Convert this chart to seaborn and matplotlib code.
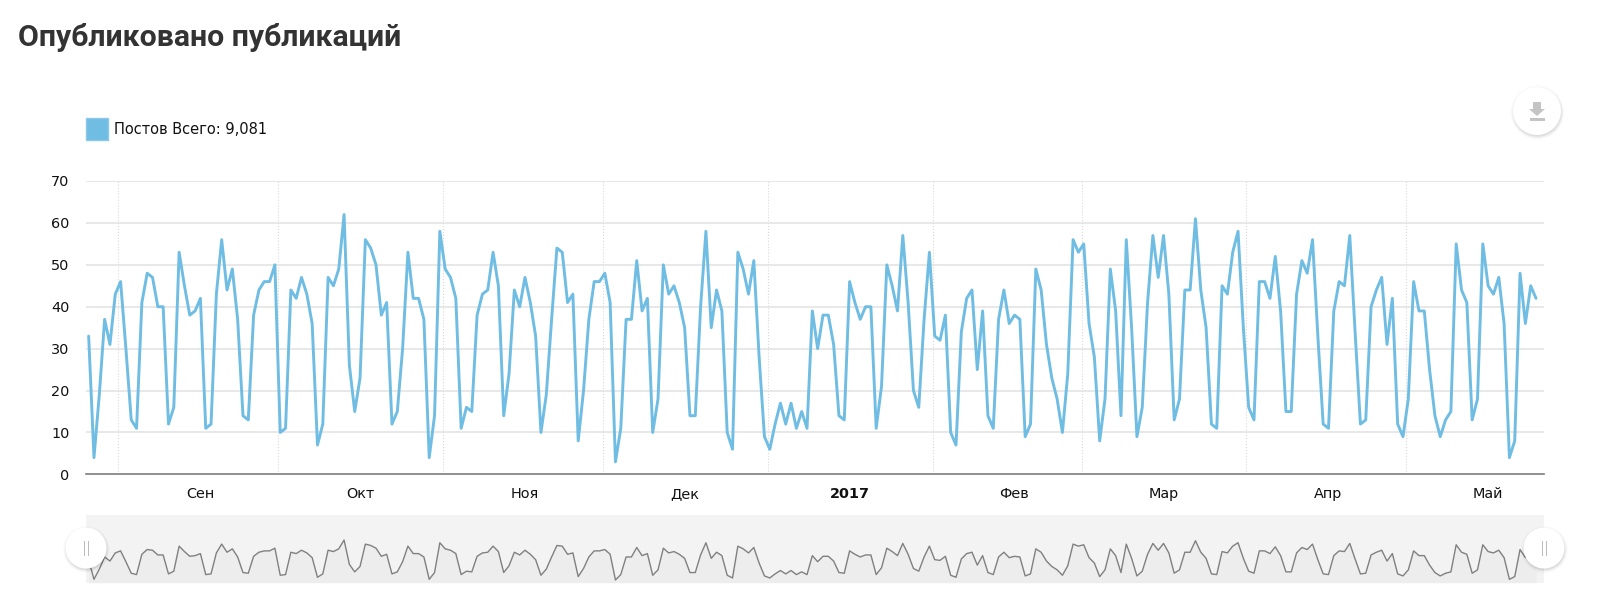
import pandas as pd
import matplotlib
matplotlib.use("Agg")
import matplotlib.pyplot as plt
from matplotlib.patches import Circle, Rectangle, Polygon
import seaborn as sns

# posts per day
posts_part1 = [33, 4, 19, 37, 31, 43, 46, 30, 13, 11, 41, 48, 47, 40, 40, 12, 16, 53, 45, 38,
               39, 42, 11, 12, 43, 56, 44, 49, 37, 14, 13, 38, 44, 46, 46, 50, 10, 11, 44, 42,
               47, 43, 36, 7, 12, 47, 45, 49, 62, 26, 15, 23, 56, 54, 50, 38, 41, 12, 15, 30,
               53, 42, 42, 37, 4, 14, 58, 49, 47, 42, 11, 16, 15, 38, 43, 44, 53, 45, 14, 24,
               44, 40, 47, 41, 33, 10]
posts_part2 = [19, 37, 54, 53, 41, 43, 8, 20, 37, 46, 46, 48, 41, 3, 11, 37, 37, 51, 39, 42,
               10, 18, 50, 43, 45, 41, 35, 14, 14, 40, 58, 35, 44, 39, 10, 6, 53, 49, 43, 51,
               28, 9, 6, 12, 17, 12, 17, 11, 15, 11, 39, 30, 38, 38, 31, 14, 13, 46, 41, 37,
               40, 40, 11, 21, 50, 45, 39, 57, 41, 20, 16, 37, 53, 33, 32, 38, 10, 7, 34, 42,
               44, 25, 39, 14, 11, 37, 44, 36, 38, 37, 9, 12, 49, 44, 31, 23, 18, 10]
posts_part3 = [24, 56, 53, 55, 36, 28, 8, 18, 49, 39, 14, 56, 35, 9, 16, 41, 57, 47, 57, 43,
               13, 18, 44, 44, 61, 44, 35, 12, 11, 45, 43, 53, 58, 35, 16, 13, 46, 46, 42, 52,
               39, 15, 15, 43, 51, 48, 56, 33, 12, 11, 39, 46, 45, 57, 34, 12, 13, 40, 44, 47,
               31, 42, 12, 9, 18, 46, 39, 39, 25, 14, 9, 13, 15, 55, 44, 41, 13, 18, 55, 45,
               43, 47, 36, 4, 8, 48, 36, 45, 42]

month_starts = ["2016-09-01", "2016-10-01", "2016-11-01", "2016-12-01", "2017-01-01",
                "2017-02-01", "2017-03-01", "2017-04-01", "2017-05-01"]
month_labels = ["Сен", "Окт", "Ноя", "Дек", "2017", "Фев", "Мар", "Апр", "Май"]
y_ticks = [0, 10, 20, 30, 40, 50, 60, 70]

title = "Опубликовано публикаций"
legend_label = "Постов Всего: 9,081"

W, H = 1600, 607
LINE = "#70bde3"

posts = posts_part1 + posts_part2 + posts_part3
df = pd.DataFrame({
    "date": pd.date_range("2016-08-26 10:00", periods=len(posts), freq="D"),
    "posts": posts,
})
month_dates = pd.to_datetime(month_starts)
label_dates = month_dates + pd.Timedelta(days=15.4)
x_range = (pd.Timestamp("2016-08-25 22:00"), pd.Timestamp("2017-05-26 22:00"))

sns.set_style("white")
plt.rcParams["font.family"] = ["DejaVu Sans"]

fig = plt.figure(figsize=(W / 100, H / 100), dpi=100, facecolor="white")


def px_axes(x0, y0, x1, y1):
    return fig.add_axes([x0 / W, 1 - y1 / H, (x1 - x0) / W, (y1 - y0) / H])


# main chart
ax = px_axes(86, 181, 1544, 474.4)
sns.lineplot(data=df, x="date", y="posts", color=LINE, linewidth=2.1, ax=ax, zorder=3)
ax.set_xlim(*x_range)
ax.set_ylim(0, 70)
ax.set_xlabel("")
ax.set_ylabel("")
ax.set_yticks(y_ticks)
ax.set_xticks(month_dates)
ax.set_xticklabels([])
ax.set_xticks(label_dates, minor=True)
ax.set_xticklabels(month_labels, minor=True, va="baseline")
ax.tick_params(axis="y", length=0, pad=12, labelsize=10.4, labelcolor="#111111")
ax.tick_params(axis="x", which="major", length=6, width=1, color="#999999")
ax.tick_params(axis="x", which="minor", length=0, pad=17, labelsize=10.4, labelcolor="#111111")
ax.grid(axis="y", color="#e4e4e4", linewidth=1.2, zorder=1)
ax.grid(axis="x", which="major", color="#d8d8d8", linewidth=0.8, linestyle=":", zorder=1)
ax.set_axisbelow(True)
for side in ["top", "left", "right"]:
    ax.spines[side].set_visible(False)
ax.spines["bottom"].set_color("#7f7f7f")
ax.spines["bottom"].set_linewidth(1.2)
for lab in ax.get_xticklabels(minor=True):
    if lab.get_text() == "2017":
        lab.set_fontweight("bold")

# navigator under the chart
nav = px_axes(86, 515, 1544, 582.7)
nav.set_facecolor("#f3f3f3")
nav.fill_between(df["date"], df["posts"], -1, color="#ededed", linewidth=0)
sns.lineplot(data=df, x="date", y="posts", color="#808080", linewidth=1.0, ax=nav)
nav.set_xlim(*x_range)
nav.set_ylim(-1, 99)
nav.set_xlabel("")
nav.set_ylabel("")
nav.set_xticks([])
nav.set_yticks([])
sns.despine(ax=nav, left=True, bottom=True)

# page furniture in pixel coordinates
over = fig.add_axes([0, 0, 1, 1], zorder=10)
over.set_xlim(0, W)
over.set_ylim(H, 0)
over.axis("off")


def round_button(cx, cy, r):
    for grow, alpha in [(3, 0.015), (2, 0.025), (1, 0.04), (0, 0.06)]:
        over.add_patch(Circle((cx + 0.5, cy + 1.5), r + grow, color="black", alpha=alpha, lw=0))
    over.add_patch(Circle((cx, cy), r, color="white", lw=0))


over.text(18, 37, title, fontsize=21.8, fontweight="bold", family="Roboto",
          color="#333333", va="center", ha="left")

over.add_patch(Rectangle((86, 118), 22, 22, facecolor=LINE, edgecolor="#8cc9e8", lw=1))
over.text(114.5, 130, legend_label, fontsize=10.5, color="#111111", va="center", ha="left")

round_button(1537, 111, 24)
over.add_patch(Polygon([(1533, 102), (1541, 102), (1541, 109), (1545, 109),
                        (1537, 116), (1529, 109), (1533, 109)], color="#c4c4c4", lw=0))
over.add_patch(Rectangle((1529.5, 118), 15, 2.5, color="#c4c4c4", lw=0))

for cx in [86, 1544]:
    round_button(cx, 548, 20.5)
    for dx in [-2.5, 1.5]:
        over.add_patch(Rectangle((cx + dx, 541), 1.2, 15, color="#bdbdbd", lw=0))

fig.savefig("out.png", dpi=100, facecolor="white")
